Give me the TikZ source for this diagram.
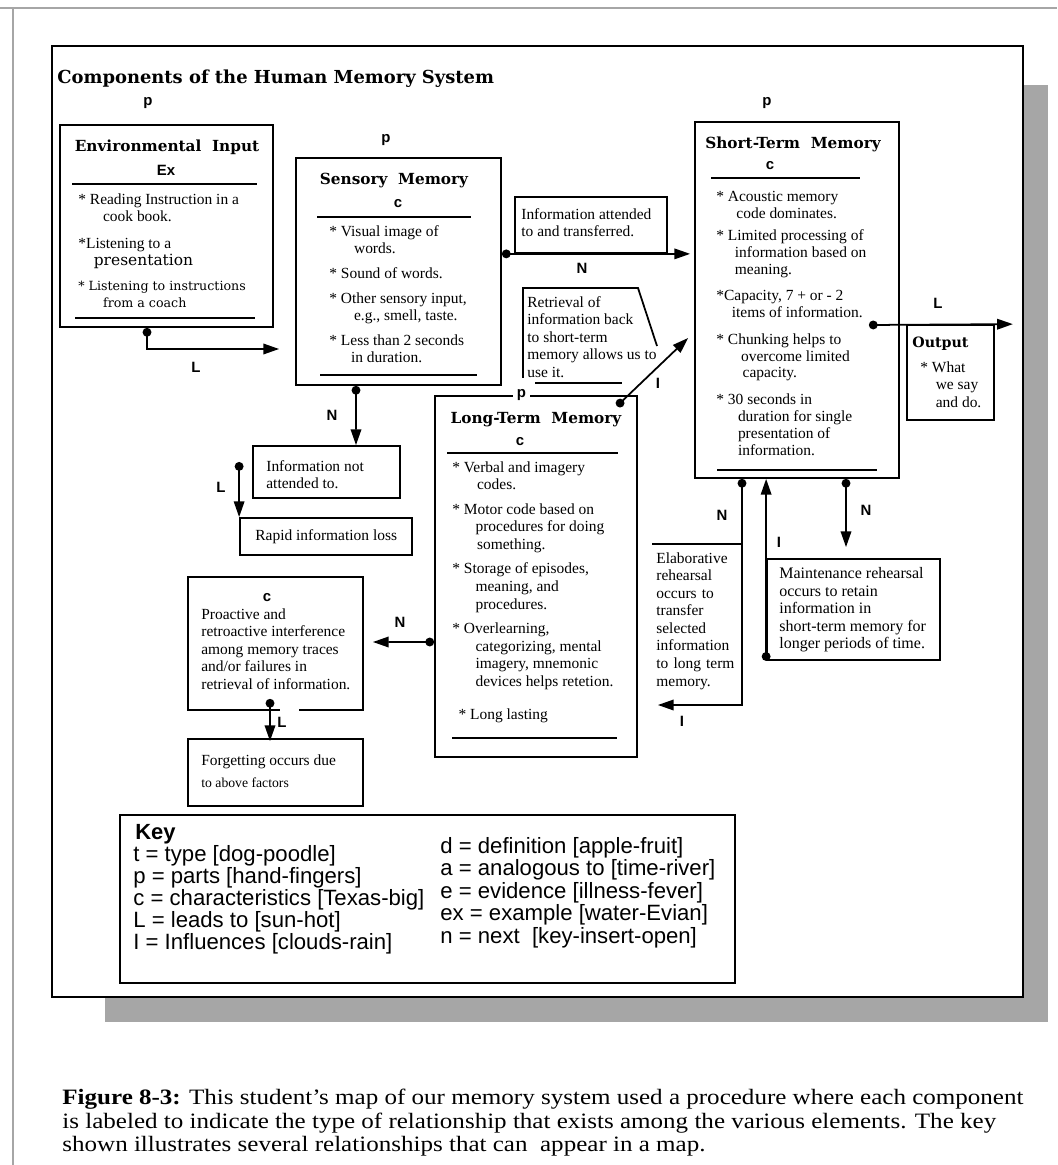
\documentclass[tikz,border=0pt]{standalone}
\usepackage{fontspec}
\setmainfont{Liberation Serif}
\setsansfont{Liberation Sans}
\newfontfamily\hdfont{DejaVu Serif}
\usetikzlibrary{arrows.meta}
\usetikzlibrary{fit}
\usetikzlibrary{calc}

\begin{document}
\begin{tikzpicture} [
  x=0.02cm, y=-0.02cm,
  box/.style={draw, line width=1pt, inner sep=0pt, fit={#1}},
  txt/.style={anchor=north west, inner sep=0pt, align=left, font=\fontsize{8.8}{10}\selectfont},
  head/.style={inner sep=0pt, font=\hdfont\bfseries\fontsize{8.7}{10}\selectfont},
  tag/.style={inner sep=0pt, font=\sffamily\bfseries\fontsize{8.5}{10}\selectfont},
  rule/.style={line width=1pt},
  link/.style={line width=1pt, {Circle[length=5pt]}-{Triangle[length=9pt,width=6pt]}}
  ]
  \useasboundingbox (0,0) rectangle (1057,1165);
  \fill[white] (0,0) rectangle (1057,1165);
  % page edge and shadow
  \draw[gray!70, line width=0.6pt] (0,8) -- (1057,8);
  \draw[gray!70, line width=0.6pt] (13,8) -- (13,1165);
  \fill[gray!70] (105,85) rectangle (1048,1022);
  \node[box={(52,46) (1023,997)}, fill=white, line width=1.4pt] (frame) {};
  \node[anchor=west, inner sep=0pt, font=\hdfont\bfseries\fontsize{10.2}{12}\selectfont] (title) at (57,79) {Components of the Human Memory System};

  % environmental input
  \node[tag] (penv) at (148,103) {p};
  \node[box={(60,125) (273,327)}] (env) {};
  \node[head] (envh) at (167,147) {Environmental\ \ Input};
  \node[tag] (envx) at (166,170) {Ex};
  \draw[rule] (72,184) -- (257,184);
  \node[txt] (envl) at (78,193) {* Reading Instruction in a\\\hspace{1.6em}cook book.\\[5pt]*Listening to a\\\hspace{1em}{\hdfont presentation}\\[4pt]{\hdfont\fontsize{7.2}{10}\selectfont * Listening to instructions}\\\hspace{1.6em}{\hdfont\fontsize{7.2}{10}\selectfont from a coach}};
  \draw[rule] (75,318) -- (255,318);

  % sensory memory
  \node[tag] (psens) at (386,140) {p};
  \node[box={(296,158) (501,385)}] (sens) {};
  \node[head] (sensh) at (394,181) {Sensory\ \ Memory};
  \node[tag] (sensc) at (398,204) {c};
  \draw[rule] (317,217) -- (471,217);
  \node[txt] (sensl) at (329,225) {* Visual image of\\\hspace{1.6em}words.\\[4pt]* Sound of words.\\[4pt]* Other sensory input,\\\hspace{1.6em}e.g., smell, taste.\\[4pt]* Less than 2 seconds\\\hspace{1.4em}in duration.};
  \draw[rule] (320,375) -- (477,375);

  % attended / retrieval
  \node[box={(515,197) (667,253)}] (att) {};
  \node[txt] (attl) at (521,208) {Information attended\\to and transferred.};
  \node[txt] (ret) at (527,296) {Retrieval of\\information back\\to short-term\\memory allows us to\\use it.};
  \draw[rule] (523,378) -- (523,288) -- (638,288) -- (657,346);
  \draw[rule] (535,383) -- (622,383);

  % short-term memory
  \node[tag] (pstm) at (767,103) {p};
  \node[box={(695,122) (899,478)}] (stm) {};
  \node[head] (stmh) at (793,144) {Short-Term\ \ Memory};
  \node[tag] (stmc) at (770,166) {c};
  \draw[rule] (711,178) -- (860,178);
  \node[txt, font=\fontsize{8.8}{9.6}\selectfont] (stml) at (716,191) {* Acoustic memory\\\hspace{1.3em}code dominates.\\[3pt]* Limited processing of\\\hspace{1.2em}information based on\\\hspace{1.2em}meaning.\\[5.5pt]*Capacity, 7 + or - 2\\\hspace{1em}items of information.\\[5.5pt]* Chunking helps to\\\hspace{1.6em}overcome limited\\\hspace{1.7em}capacity.\\[5.5pt]* 30 seconds in\\\hspace{1.4em}duration for single\\\hspace{1.4em}presentation of\\\hspace{1.4em}information.};
  \draw[rule] (717,470) -- (877,470);

  % output
  \node[tag] (lout) at (938,303) {L};
  \node[box={(907,325) (994,420)}] (out) {};
  \node[anchor=north west, inner sep=0pt, font=\hdfont\bfseries\fontsize{8.1}{10}\selectfont] (outh) at (912,337) {Output};
  \node[txt] (outl) at (920,361) {* What\\\hspace{1em}we say\\\hspace{1em}and do.};

  % long-term memory
  \node[box={(435,396) (637,757)}] (ltm) {};
  \node[tag, anchor=west, fill=white, inner xsep=2pt, inner ysep=2pt] (pltm) at (513,395) {p\hspace{9pt}};
  \node[head] (ltmh) at (536,420) {Long-Term\ \ Memory};
  \node[tag] (ltmc) at (520,442) {c};
  \draw[rule] (447,453) -- (618,453);
  \node[txt] (ltml) at (452,461) {* Verbal and imagery\\\hspace{1.6em}codes.\\[4pt]* Motor code based on\\\hspace{1.5em}procedures for doing\\\hspace{1.6em}something.\\[4pt]* Storage of episodes,\\\hspace{1.5em}meaning, and\\\hspace{1.5em}procedures.\\[4pt]* Overlearning,\\\hspace{1.5em}categorizing, mental\\\hspace{1.5em}imagery, mnemonic\\\hspace{1.5em}devices helps retetion.\\[9pt]\hspace{0.4em}* Long lasting};
  \draw[rule] (452,738) -- (617,738);

  % lost information
  \node[box={(253,446) (400,498)}] (notatt) {};
  \node[txt] (notattl) at (266,460) {Information not\\attended to.};
  \node[box={(240,518) (412,555)}] (rapid) {};
  \node[txt] (rapidl) at (255,529) {Rapid information loss};

  % interference and forgetting
  \node[box={(188,577) (363,710)}] (pro) {};
  \draw[white, line width=1.6pt] (280,710) -- (299,710);
  \node[tag] (proc) at (267,598) {c};
  \node[txt] (prol) at (201,608) {Proactive and\\retroactive interference\\among memory traces\\and/or failures in\\retrieval of information.};
  \node[box={(188,739) (363,806)}] (forget) {};
  \node[txt] (forgetl) at (201,754) {Forgetting occurs due\\[3pt]{\fontsize{7.8}{9}\selectfont to above factors}};

  % rehearsal
  \node[txt, text width=1.7cm] (elab) at (656,552) {Elaborative\\rehearsal\\occurs to\\transfer\\selected\\information\\to long term\\memory.};
  \draw[rule] (652,544) -- (742,544);
  \node[box={(767,559) (940,660)}] (maint) {};
  \node[txt, font=\fontsize{9.1}{10}\selectfont] (maintl) at (779,567) {Maintenance rehearsal\\occurs to retain\\information in\\short-term memory for\\longer periods of time.};

  % connectors
  \draw[link] ($(env.south)+(-19.5,0)$) |- ($(sens.west)+(-16,77.5)$);
  \draw[link] (sens.east |- att.south) -- ($(stm.west |- att.south)+(-4,0)$);
  \draw[link] ($(ltm.north east)+(-21,11)$) -- ($(stm.west)+(-6,38)$);
  \draw[link] ($(stm.east)+(-31,25)$) -- ($(out.north east)+(18,0)$);
  \draw[link] ($(stm.south)+(-55,0)$) |- ($(ltm.east)+(20,128.5)$);
  \draw[link] (maint.south west) -- (maint.south west |- stm.south);
  \draw[link] ($(stm.south)+(49,0)$) -- ($(maint.north)+(-7.5,-11)$);
  \draw[link] ($(sens.south)+(-42.5,0)$) -- ($(notatt.north)+(29.5,0)$);
  \draw[link] ($(notatt.west)+(-13,-10)$) -- (rapid.north west);
  \draw[link] ($(ltm.west)+(0,65.5)$) -- ($(pro.east)+(9,-1.5)$);
  \draw[link] ($(pro.south)+(-5.5,-12)$) -- ($(forget.north)+(-5.5,3)$);

  % labels
  \node[tag] (l1) at (196,367) {L};
  \node[tag] (n1) at (582,268) {N};
  \node[tag] (i1) at (658,383) {I};
  \node[tag] (n2) at (722,515) {N};
  \node[tag] (i2) at (682,721) {I};
  \node[tag] (i3) at (779,542) {I};
  \node[tag] (n3) at (866,510) {N};
  \node[tag] (n4) at (332,415) {N};
  \node[tag] (l2) at (221,487) {L};
  \node[tag] (n5) at (400,622) {N};
  \node[tag] (l3) at (282,722) {L};

  % key
  \node[box={(120,815) (735,983)}] (key) {};
  \node[anchor=north west, inner sep=0pt, font=\sffamily\bfseries\fontsize{12.5}{14}\selectfont] (keyh) at (135,824) {Key};
  \node[anchor=north west, inner sep=0pt, align=left, font=\sffamily\fontsize{12.6}{12.5}\selectfont] (keyl) at (133,845) {t = type [dog-poodle]\\p = parts [hand-fingers]\\c = characteristics [Texas-big]\\L = leads to [sun-hot]\\I = Influences [clouds-rain]};
  \node[anchor=north west, inner sep=0pt, align=left, font=\sffamily\fontsize{12.6}{12.75}\selectfont] (keyr) at (440,837) {d = definition [apple-fruit]\\a = analogous to [time-river]\\e = evidence [illness-fever]\\ex = example [water-Evian]\\n = next\ \ [key-insert-open]};

  % caption
  \node[anchor=north west, inner sep=0pt, align=left, xscale=1.14, transform shape, font=\fontsize{12.5}{13.3}\selectfont] (cap) at (62,1089) {\textbf{Figure 8-3:} This student's map of our memory system used a procedure where each component\\is labeled to indicate the type of relationship that exists among the various elements. The key\\shown illustrates several relationships that can\ \ appear in a map.};
\end{tikzpicture}
\end{document}
